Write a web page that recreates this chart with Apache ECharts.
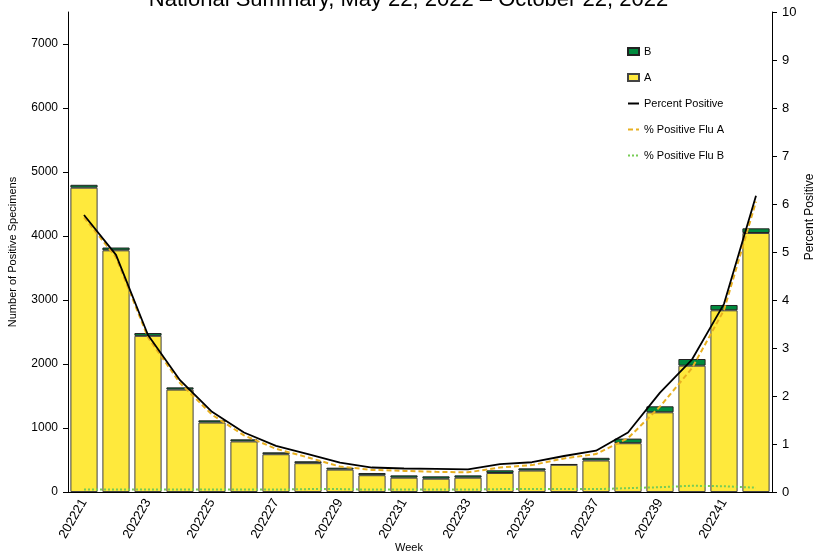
<!DOCTYPE html>
<html>
<head>
<meta charset="utf-8">
<script src="https://cdn.jsdelivr.net/npm/echarts@6/dist/echarts.min.js"></script>
<style>
  html, body { margin: 0; padding: 0; background: #fff; }
  #chart { width: 817px; height: 555px; }
</style>
</head>
<body>
<div id="chart"></div>
<script>
// weeks
const weeks = ['202221', '202222', '202223', '202224', '202225', '202226', '202227', '202228',
  '202229', '202230', '202231', '202232', '202233', '202234', '202235', '202236',
  '202237', '202238', '202239', '202240', '202241', '202242']
// positive specimens
const fluA = [4755, 3776, 2440, 1600, 1085, 790, 590, 450, 350, 262, 224, 208, 224, 297, 335, 425,
  492, 762, 1245, 1974, 2839, 4047]
const fluB = [45, 44, 44, 35, 35, 33, 30, 30, 30, 35, 36, 37, 36, 42, 35, 10,
  42, 72, 94, 104, 83, 73]
// percent positive
const pctAll = [5.77, 4.94, 3.27, 2.33, 1.67, 1.24, 0.96, 0.79, 0.61, 0.51, 0.49, 0.48, 0.47, 0.58, 0.62, 0.75,
  0.86, 1.24, 2.07, 2.76, 3.92, 6.17]
const pctA = [5.72, 4.89, 3.22, 2.27, 1.61, 1.18, 0.9, 0.72, 0.53, 0.46, 0.44, 0.42, 0.41, 0.51, 0.56, 0.7,
  0.79, 1.12, 1.78, 2.58, 3.79, 6.05]
const pctB = [0.05, 0.05, 0.05, 0.05, 0.05, 0.05, 0.05, 0.06, 0.06, 0.05, 0.05, 0.05, 0.05, 0.06, 0.06, 0.06,
  0.06, 0.08, 0.1, 0.13, 0.12, 0.09]
const leftTicks = [0, 1000, 2000, 3000, 4000, 5000, 6000, 7000]

const font = "'Liberation Sans', Arial, sans-serif"
const chart = echarts.init(document.getElementById('chart'))

// legend entries for lines: no marker dot
const noDot = { color: 'transparent', borderWidth: 0, opacity: 0 }

const option = {
  animation: false,
  backgroundColor: '#fff',
  textStyle: { fontFamily: font },
  title: {
    text: 'National Summary, May 22, 2022 – October 22, 2022',
    left: 'center',
    top: -16,
    textStyle: { fontFamily: font, fontSize: 22, fontWeight: 'normal', color: '#000' }
  },
  legend: {
    orient: 'vertical',
    left: 627,
    top: 46,
    padding: 0,
    itemWidth: 11,
    itemHeight: 7,
    itemGap: 15,
    textStyle: { fontSize: 11, color: '#000' },
    data: [
      { name: 'B', icon: 'rect' },
      { name: 'A', icon: 'rect' },
      { name: 'Percent Positive', itemStyle: noDot },
      { name: '% Positive Flu A', itemStyle: noDot },
      { name: '% Positive Flu B', itemStyle: noDot }
    ]
  },
  graphic: [
    {
      type: 'text',
      x: 810,
      y: 217,
      rotation: Math.PI / 2,
      style: {
        text: 'Percent Positive',
        font: '12px ' + font,
        fill: '#000',
        align: 'center',
        verticalAlign: 'middle'
      }
    },
    {
      type: 'text',
      x: 409,
      y: 548,
      style: {
        text: 'Week',
        font: '11px ' + font,
        fill: '#000',
        align: 'center',
        verticalAlign: 'middle'
      }
    }
  ],
  grid: { left: 68, right: 45, top: 12, bottom: 63, outerBoundsMode: 'none' },
  xAxis: {
    type: 'category',
    data: weeks,
    axisLine: { lineStyle: { color: '#000' } },
    axisTick: { alignWithLabel: false, interval: 0, lineStyle: { color: '#000' } },
    axisLabel: { interval: 1, rotate: 60, fontSize: 13, color: '#000', margin: 8 }
  },
  yAxis: [
    {
      type: 'value',
      min: 0,
      max: 7500,
      interval: 1000,
      name: 'Number of Positive Specimens',
      nameLocation: 'middle',
      nameGap: 50,
      nameTextStyle: { fontSize: 11, color: '#000' },
      splitLine: { show: false },
      axisLine: { show: true, lineStyle: { color: '#000' } },
      axisTick: { show: true, customValues: leftTicks, lineStyle: { color: '#000' } },
      axisLabel: {
        customValues: leftTicks,
        formatter: v => String(v),
        fontSize: 12,
        color: '#000',
        margin: 10
      }
    },
    {
      type: 'value',
      min: 0,
      max: 10,
      interval: 1,
      position: 'right',
      splitLine: { show: false },
      axisLine: { show: true, lineStyle: { color: '#000' } },
      axisTick: { show: true, lineStyle: { color: '#000' } },
      axisLabel: { fontSize: 13, color: '#000', margin: 10 }
    }
  ],
  series: [
    {
      name: 'A',
      type: 'bar',
      stack: 'flu',
      data: fluA,
      barCategoryGap: '15%',
      itemStyle: { color: '#FFE93C', borderColor: '#444', borderWidth: 1 }
    },
    {
      name: 'B',
      type: 'bar',
      stack: 'flu',
      data: fluB,
      itemStyle: { color: '#008A3E', borderColor: '#222', borderWidth: 1 }
    },
    {
      name: '% Positive Flu B',
      type: 'line',
      yAxisIndex: 1,
      data: pctB,
      symbol: 'none',
      lineStyle: { color: '#77CC55', width: 2, type: [2, 2] },
      itemStyle: { color: '#77CC55' }
    },
    {
      name: '% Positive Flu A',
      type: 'line',
      yAxisIndex: 1,
      data: pctA,
      symbol: 'none',
      lineStyle: { color: '#E8B020', width: 2, type: [5, 3] },
      itemStyle: { color: '#E8B020' }
    },
    {
      name: 'Percent Positive',
      type: 'line',
      yAxisIndex: 1,
      data: pctAll,
      symbol: 'none',
      lineStyle: { color: '#000', width: 1.8 },
      itemStyle: { color: '#000' }
    }
  ]
}

chart.setOption(option)
</script>
</body>
</html>
